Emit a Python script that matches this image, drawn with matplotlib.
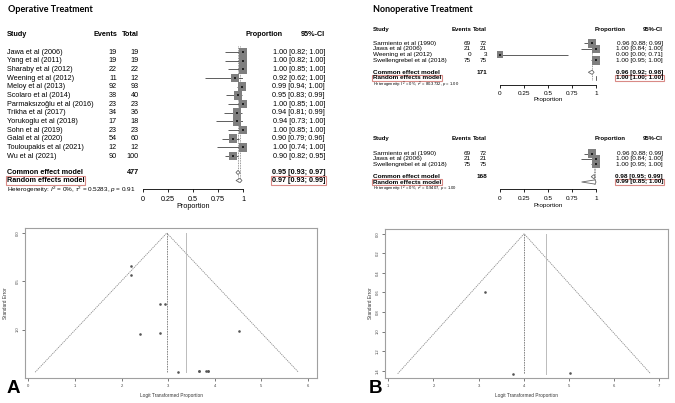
import numpy as np
import matplotlib.pyplot as plt
from matplotlib.patches import Polygon

W, H = 675, 403

# ---- Operative treatment (panel A forest)
studies_a = ['Jawa et al (2006)', 'Yang et al (2011)', 'Sharaby et al (2012)', 'Weening et al (2012)',
             'Meloy et al (2013)', 'Scolaro et al (2014)', 'Parmaksızoğlu et al (2016)', 'Trikha et al (2017)',
             'Yorukoglu et al (2018)', 'Sohn et al (2019)', 'Galal et al (2020)', 'Touloupakis et al (2021)',
             'Wu et al (2021)']
events_a = [19, 19, 22, 11, 92, 38, 23, 34, 17, 23, 54, 12, 90]
total_a = [19, 19, 22, 12, 93, 40, 23, 36, 18, 23, 60, 12, 100]
prop_a = [1.00, 1.00, 1.00, 0.92, 0.99, 0.95, 1.00, 0.94, 0.94, 1.00, 0.90, 1.00, 0.90]
lo_a = [0.82, 0.82, 0.85, 0.62, 0.94, 0.83, 0.85, 0.81, 0.73, 0.85, 0.79, 0.74, 0.82]
hi_a = [1.00, 1.00, 1.00, 1.00, 1.00, 0.99, 1.00, 0.99, 1.00, 1.00, 0.96, 1.00, 0.95]
common_a = [0.95, 0.93, 0.97]
random_a = [0.97, 0.93, 0.99]
n_a = 477
het_a = ['0.5283', '0.91']

# ---- Nonoperative treatment, all studies
studies_b1 = ['Sarmiento et al (1990)', 'Jawa et al (2006)', 'Weening et al (2012)', 'Swellengrebel et al (2018)']
events_b1 = [69, 21, 0, 75]
total_b1 = [72, 21, 3, 75]
prop_b1 = [0.96, 1.00, 0.00, 1.00]
lo_b1 = [0.88, 0.84, 0.00, 0.95]
hi_b1 = [0.99, 1.00, 0.71, 1.00]
common_b1 = [0.96, 0.92, 0.98]
random_b1 = [1.00, 1.00, 1.00]
n_b1 = 171
het_b1 = ['80.3732', '1.00']

# ---- Nonoperative treatment, without Weening
studies_b2 = ['Sarmiento et al (1990)', 'Jawa et al (2006)', 'Swellengrebel et al (2018)']
events_b2 = [69, 21, 75]
total_b2 = [72, 21, 75]
prop_b2 = [0.96, 1.00, 1.00]
lo_b2 = [0.88, 0.84, 0.95]
hi_b2 = [0.99, 1.00, 1.00]
common_b2 = [0.98, 0.95, 0.99]
random_b2 = [0.99, 0.85, 1.00]
n_b2 = 168
het_b2 = ['0.9407', '1.00']

# ---- funnel plots (logit proportion, standard error)
logit_a = [3.66, 3.66, 3.81, 2.40, 4.52, 2.94, 3.85, 2.83, 2.83, 3.85, 2.20, 3.22, 2.20]
se_a = [1.43, 1.43, 1.43, 1.04, 1.01, 0.73, 1.43, 0.73, 1.03, 1.43, 0.43, 1.44, 0.34]
mu_fixed_a, mu_rand_a = 2.97, 3.38
logit_b = [3.14, 3.76, 5.02]
se_b = [0.60, 1.43, 1.42]
mu_fixed_b, mu_rand_b = 4.01, 4.49

plt.rcParams['font.family'] = ['Liberation Sans', 'DejaVu Sans']
plt.rcParams['mathtext.fontset'] = 'custom'
plt.rcParams['mathtext.rm'] = 'Liberation Sans'
plt.rcParams['mathtext.it'] = 'Liberation Sans:italic'

fig = plt.figure(figsize=(W / 100, H / 100), dpi=100)
bg = fig.add_axes([0, 0, 1, 1])
bg.set_xlim(0, W)
bg.set_ylim(H, 0)
bg.axis('off')


def px_rect(x0, y0, x1, y1):
    return [x0 / W, 1 - y1 / H, (x1 - x0) / W, (y1 - y0) / H]


def forest(lay, names, ev, tot, p, lo, hi, com, ran, n, het):
    fs, hfs, hetfs = lay['fs'], lay['hfs'], lay['hetfs']
    sx, ex, tx, px, cx = lay['cols']
    hy = lay['head']
    rows = lay['row0'] + lay['step'] * np.arange(len(names))
    yc, yr, yh = lay['pool']
    bold = dict(fontweight='bold')

    bg.text(sx, hy, 'Study', fontsize=hfs, va='center', **bold)
    bg.text(ex, hy, 'Events', fontsize=hfs, va='center', ha='right', **bold)
    bg.text(tx, hy, 'Total', fontsize=hfs, va='center', ha='right', **bold)
    bg.text(px, hy, 'Proportion', fontsize=hfs, va='center', ha='right', **bold)
    bg.text(cx, hy, '95%-CI', fontsize=hfs, va='center', ha='right', **bold)
    for i, y in enumerate(rows):
        bg.text(sx, y, names[i], fontsize=fs, va='center')
        bg.text(ex, y, str(ev[i]), fontsize=fs, va='center', ha='right')
        bg.text(tx, y, str(tot[i]), fontsize=fs, va='center', ha='right')
        bg.text(cx, y, f'{p[i]:.2f} [{lo[i]:.2f}; {hi[i]:.2f}]', fontsize=fs, va='center', ha='right')

    bg.text(sx, yc, 'Common effect model', fontsize=fs, va='center', **bold)
    bg.text(tx, yc, str(n), fontsize=fs, va='center', ha='right', **bold)
    bg.text(cx, yc, f'{com[0]:.2f} [{com[1]:.2f}; {com[2]:.2f}]', fontsize=fs, va='center', ha='right', **bold)
    box = dict(boxstyle='square,pad=0.1', fc='none', ec='#d98a86', lw=0.8)
    bg.text(sx, yr, 'Random effects model', fontsize=fs, va='center', bbox=box, **bold)
    bg.text(cx, yr, f'{ran[0]:.2f} [{ran[1]:.2f}; {ran[2]:.2f}]', fontsize=fs, va='center', ha='right',
            bbox=box, **bold)
    bg.text(sx, yh, r'Heterogeneity: $I^2$ = 0%, $\tau^2$ = ' + het[0] + r', $p$ = ' + het[1],
            fontsize=hetfs, va='center')

    x0, x1 = lay['span']
    top = hy + 4
    ax = fig.add_axes(px_rect(x0, top, x1, yh))
    ax.set_xlim(0, 1)
    ax.set_ylim(yh, top)
    ax.patch.set_alpha(0)
    for s in ['top', 'left', 'right']:
        ax.spines[s].set_visible(False)
    ax.spines['bottom'].set_linewidth(0.6)
    ax.set_yticks([])
    ax.set_xticks([0, 0.25, 0.5, 0.75, 1])
    ax.set_xticklabels(['0', '0.25', '0.5', '0.75', '1'])
    ax.tick_params(axis='x', length=2.2, width=0.6, pad=lay['pad'], labelsize=fs)

    ax.vlines([com[0], ran[0]], rows[0] - lay['step'] * 0.7, yr + 2, colors='#777777',
              linestyles=(0, (1, 1)), lw=0.6)
    ax.hlines(rows, lo, hi, colors='#444444', lw=0.6, zorder=2)
    sizes = [lay['sq'] * min(1.0, (t / 10) ** 0.5) for t in tot]
    ax.scatter(p, rows, marker='s', s=sizes, c='#7f7f7f', linewidths=0, zorder=3, clip_on=False)
    ax.scatter(p, rows, marker='s', s=0.8, c='#222222', linewidths=0, zorder=4, clip_on=False)
    dh = 2.1
    for est, l, h, y in [(com[0], com[1], com[2], yc), (ran[0], ran[1], ran[2], yr)]:
        ax.add_patch(Polygon([[l, y], [est, y - dh], [h, y], [est, y + dh]], closed=True,
                             fc='white', ec='#666666', lw=0.6, clip_on=False, zorder=3))
    bg.text((x0 + x1) / 2, lay['xlab'], 'Proportion', fontsize=fs, ha='center', va='center')


forest(dict(fs=5.2, hfs=5.2, hetfs=4.6, cols=(7, 117, 139, 283, 325), head=35, row0=52, step=8.67,
            pool=(172.5, 180.5, 189.5), span=(143, 243), pad=2.6, sq=40, xlab=207),
       studies_a, events_a, total_a, prop_a, lo_a, hi_a, common_a, random_a, n_a, het_a)
forest(dict(fs=4.6, hfs=4.3, hetfs=3.0, cols=(373, 471, 487, 626, 663), head=29.5, row0=43.3, step=5.67,
            pool=(72.3, 77.7, 84.5), span=(500, 596), pad=2.2, sq=38, xlab=99.5),
       studies_b1, events_b1, total_b1, prop_b1, lo_b1, hi_b1, common_b1, random_b1, n_b1, het_b1)
forest(dict(fs=4.6, hfs=4.3, hetfs=3.0, cols=(373, 471, 487, 626, 663), head=138.5, row0=153.7, step=5.2,
            pool=(176.7, 182, 188.5), span=(500, 596), pad=3.2, sq=38, xlab=205.5),
       studies_b2, events_b2, total_b2, prop_b2, lo_b2, hi_b2, common_b2, random_b2, n_b2, het_b2)

bg.text(8, 9.5, 'Operative Treatment', fontsize=6.5, fontweight='bold', family='Lato', va='center')
bg.text(373, 9.5, 'Nonoperative Treatment', fontsize=6.5, fontweight='bold', family='Lato', va='center')


def funnel(rect, x, se, mu_f, mu_r, xlim, ylim, xticks, yticks, ylab_x):
    ax = fig.add_axes(px_rect(*rect))
    ax.set_xlim(*xlim)
    ax.set_ylim(*ylim)
    for s in ax.spines.values():
        s.set_color('#a0a0a0')
        s.set_linewidth(0.8)
    se_max = max(se)
    ax.plot([mu_f - 1.96 * se_max, mu_f, mu_f + 1.96 * se_max], [se_max, 0, se_max],
            color='#8a8a8a', lw=0.6, ls=(0, (1.5, 1)))
    ax.plot([mu_f, mu_f], [0, se_max], color='#777777', lw=0.6, ls=(0, (2, 1)))
    ax.plot([mu_r, mu_r], [0, se_max], color='#bbbbbb', lw=0.7)
    ax.scatter(x, se, s=3.5, c='#555555', linewidths=0, zorder=3)
    ax.set_xticks(xticks)
    ax.set_xticklabels([str(t) for t in xticks])
    ax.set_yticks(yticks)
    ax.set_yticklabels([f'{t:.1f}' for t in yticks], rotation=90, va='center')
    ax.tick_params(length=2, width=0.5, pad=2, labelsize=3, colors='#444444')
    x0, y0, x1, y1 = rect
    bg.text((x0 + x1) / 2, 396, 'Logit Transformed Proportion', fontsize=3.4, ha='center', va='center',
            color='#333333')
    bg.text(ylab_x, (y0 + y1) / 2, 'Standard Error', fontsize=3.4, rotation=90, ha='center', va='center',
            color='#333333')


funnel((25, 228, 317, 378), logit_a, se_a, mu_fixed_a, mu_rand_a, (-0.07, 6.19), (1.50, -0.052),
       [0, 1, 2, 3, 4, 5, 6], [0.0, 0.5, 1.0], 6)
funnel((385, 229, 668, 378), logit_b, se_b, mu_fixed_b, mu_rand_b, (0.926, 7.2), (1.474, -0.049),
       [1, 2, 3, 4, 5, 6, 7], [0.0, 0.2, 0.4, 0.6, 0.8, 1.0, 1.2, 1.4], 371)

bg.text(7, 393, 'A', fontsize=13.5, fontweight='bold', va='baseline')
bg.text(369, 393, 'B', fontsize=13.5, fontweight='bold', va='baseline')

fig.savefig('out.png', dpi=100)
